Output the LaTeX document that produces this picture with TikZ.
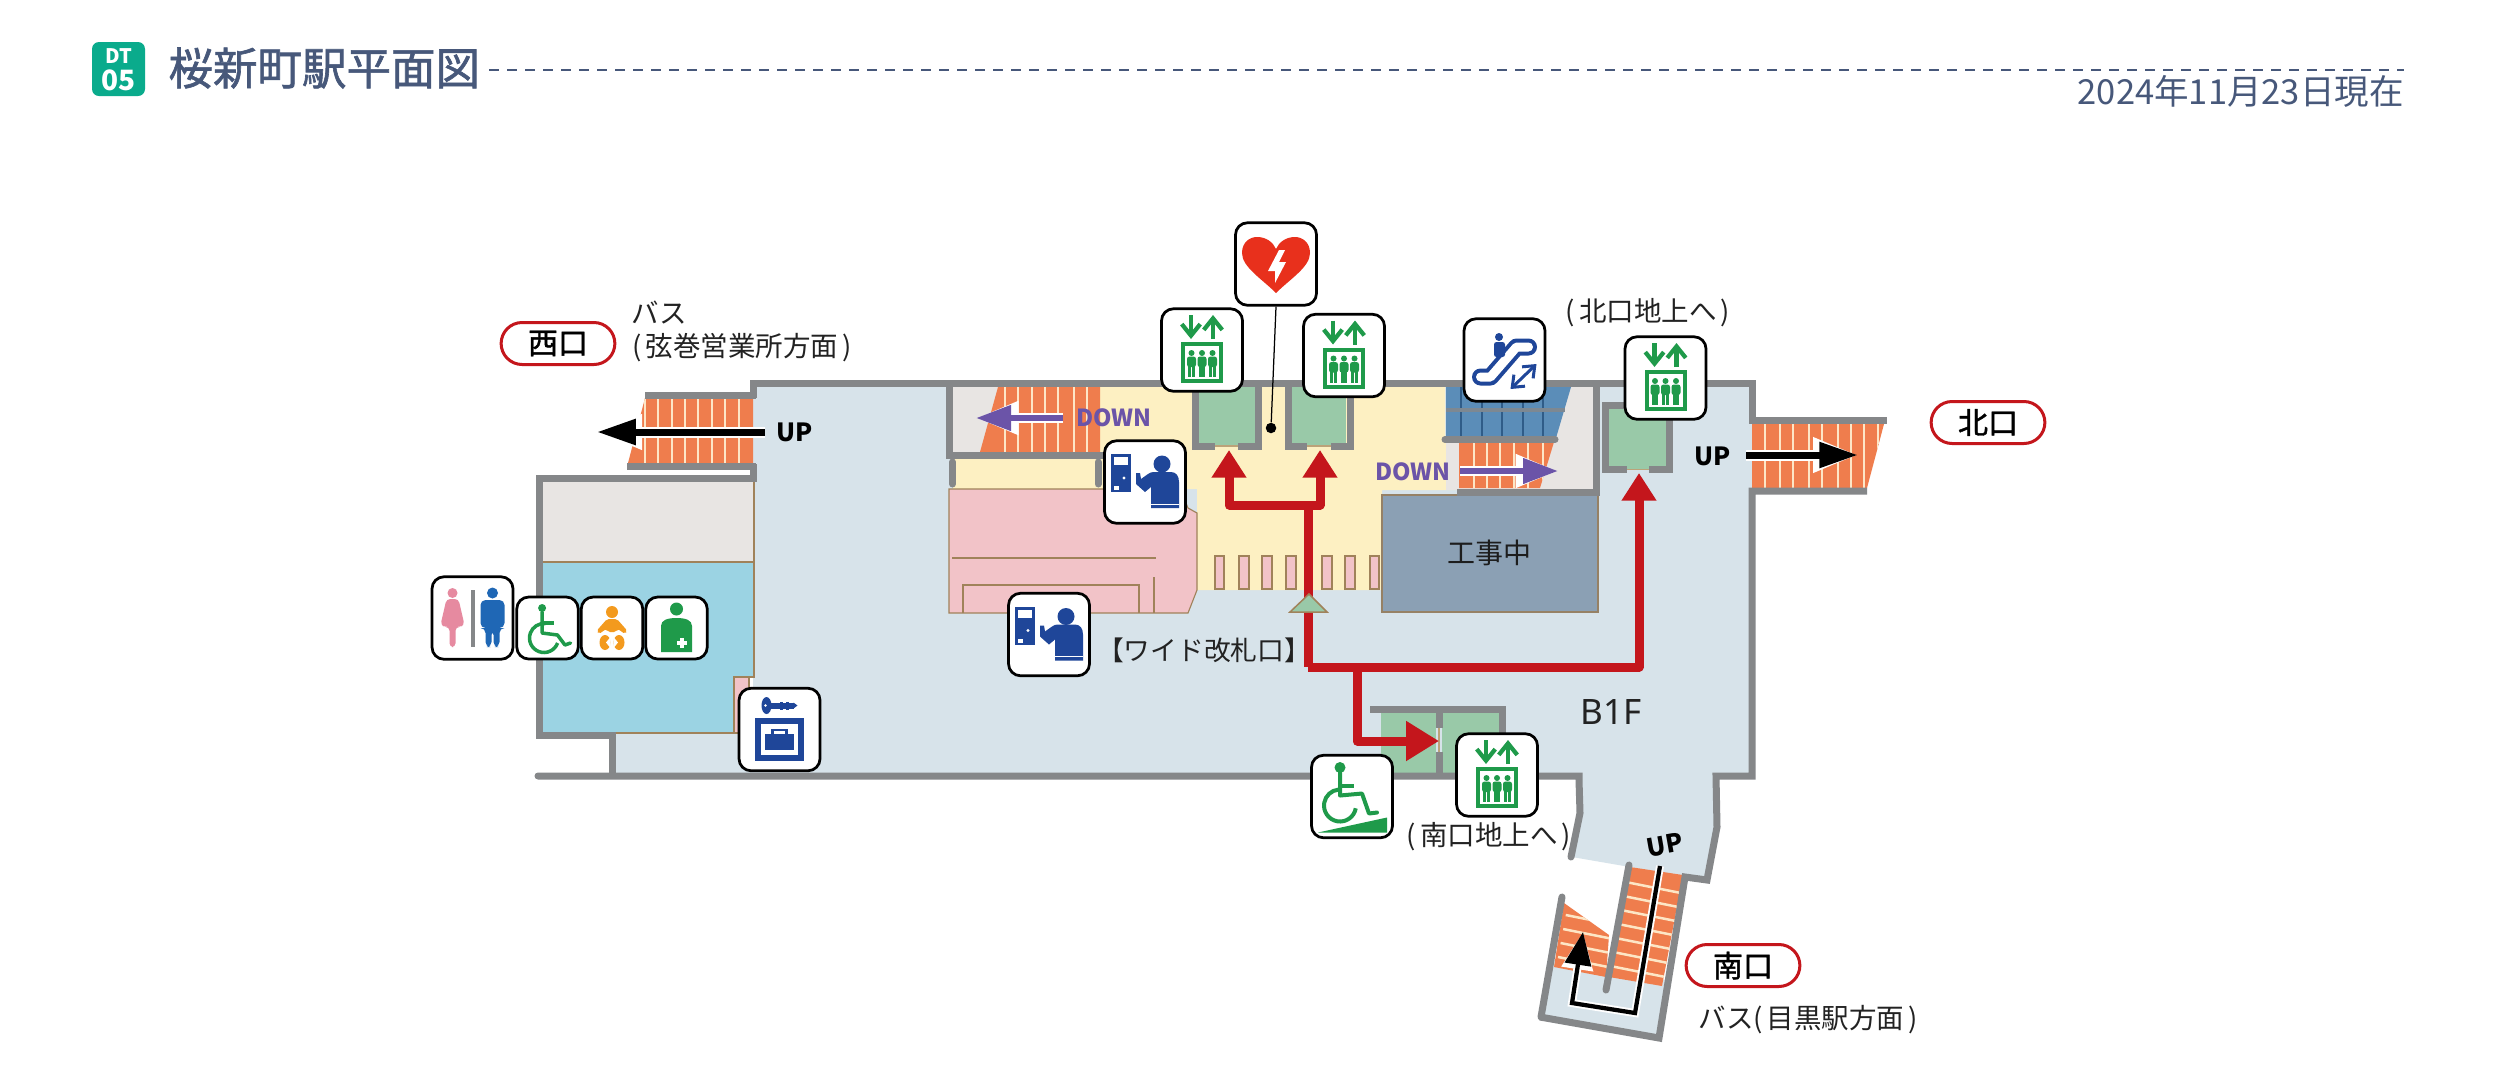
\documentclass[tikz,border=0pt]{standalone}
\usepackage{fontspec}
\setmainfont{Noto Sans}
\newfontfamily\jp{Noto Sans CJK JP}
\newfontfamily\jpm[FakeBold=1.4]{Noto Sans CJK JP}
\usetikzlibrary{arrows.meta}
\definecolor{hdr}{HTML}{47587A}
\definecolor{badge}{HTML}{0AAB8C}
\definecolor{floorc}{HTML}{D7E3EA}
\definecolor{yell}{HTML}{FDF0C2}
\definecolor{pinkz}{HTML}{F2C3C8}
\definecolor{grayz}{HTML}{E8E5E3}
\definecolor{bluez}{HTML}{9BD3E3}
\definecolor{wallc}{HTML}{858789}
\definecolor{orng}{HTML}{EF7D4D}
\definecolor{strp}{HTML}{FDE6C6}
\definecolor{brn}{HTML}{A0825A}
\definecolor{eleg}{HTML}{99C9A8}
\definecolor{redr}{HTML}{C4161C}
\definecolor{purp}{HTML}{6B54A8}
\definecolor{constr}{HTML}{8BA0B4}
\definecolor{escb}{HTML}{5B8DB8}
\definecolor{escd}{HTML}{2F5C88}
\definecolor{gic}{HTML}{1F9A4A}
\definecolor{bic}{HTML}{1F4699}
\definecolor{wom}{HTML}{E68AA0}
\definecolor{man}{HTML}{1F67B5}
\definecolor{bab}{HTML}{F39A1E}
\definecolor{aedr}{HTML}{E8301C}
\definecolor{txt}{HTML}{222222}
\newcommand{\lpar}{(\kern1.6pt}
\newcommand{\rpar}{\kern1.6pt)}
\tikzset{
  wall/.style={draw=wallc,line width=2.8pt,miter limit=10},
  rwall/.style={wall,line cap=round},
  thinb/.style={draw=brn,line width=0.45pt},
  strpl/.style={draw=strp,line width=1pt},
  doorl/.style={draw=brn!70!yell,line width=0.5pt},
  icon/.style={draw=black,fill=white,line width=1.1pt,rounded corners=4.8pt,inner sep=0pt},
  ibig/.style={icon,minimum width=32.4pt,minimum height=33pt},
  ismall/.style={icon,minimum width=24.6pt,minimum height=24.8pt},
  pill/.style={draw=redr,fill=white,line width=1.2pt,rounded corners=8.4pt,minimum width=45.5pt,minimum height=16.8pt,inner sep=0pt,font=\jpm\fontsize{12}{14}\selectfont},
  lab/.style={inner sep=0pt,text=txt,font=\jp\fontsize{10.7}{13}\selectfont},
  labw/.style={lab,font=\jp\fontsize{11}{13}\selectfont},
  uplab/.style={inner sep=0pt,font=\jp\bfseries\fontsize{10}{12}\selectfont},
  downlab/.style={inner sep=0pt,text=purp,font=\jp\bfseries\fontsize{9.4}{11}\selectfont},
  halob/.style={draw=white,line width=4.4pt,-{Triangle[length=18pt,width=13pt,fill=white]}},
  blk/.style={draw=black,line width=2.8pt,-{Triangle[length=15.5pt,width=9.8pt,fill=black]}},
  halop/.style={draw=white,line width=4pt,-{Triangle[length=17pt,width=12.5pt,fill=white]}},
  prp/.style={draw=purp,line width=2.4pt,-{Triangle[length=14pt,width=9.8pt,fill=purp]}},
  redl/.style={draw=redr,line width=3.6pt,line join=round},
  redh/.style={redl,-{Triangle[length=11pt,width=13.2pt,fill=redr]}},
  redhb/.style={redl,-{Triangle[length=13.2pt,width=15.2pt,fill=redr]}},
  barb/.style={-{Straight Barb[length=4.6pt,width=7.4pt]}},
  pics/elev/.style={code={
    \draw[gic,line width=1.7pt,barb] (-11,-35) -- (-11,-11);
    \draw[gic,line width=1.7pt,barb] (11,-11) -- (11,-35);
    \draw[gic,line width=1.6pt] (-19,-6) rectangle (19,31);
    \foreach \q in {-10.5,0,10.5}{
      \fill[gic] (\q,3) circle (3);
      \fill[gic,rounded corners=1pt] (\q-4.5,6.5) rectangle (\q+4.5,17);
      \fill[gic] (\q-3.2,16) rectangle (\q-0.3,27);
      \fill[gic] (\q+0.3,16) rectangle (\q+3.2,27);
    }
  }},
  pics/wheel/.style={code={
    \draw[gic,line width=1.4pt,line join=round,line cap=round] (-5.4,-16) -- (-5.4,5) -- (10,7) -- (17.5,17) -- (23,15);
    \draw[gic,line width=1.4pt] (-5,-5) -- (6,-5);
    \fill[gic] (-5.4,-20) circle (4);
    \draw[gic,line width=1.4pt] (-3.5,10) ++(20:14.5) arc[start angle=20,end angle=275,radius=14.5];
  }},
  pics/ramp/.style={code={
    \draw[gic,line width=1.6pt,line join=round,line cap=round] (-12,-24) -- (-12,-1) -- (10,-3) -- (17,17) -- (25,16);
    \draw[gic,line width=1.6pt] (-12,-11) -- (2,-11);
    \fill[gic] (-12,-29) circle (5.5);
    \draw[gic,line width=1.6pt] (-12,9) ++(10:16) arc[start angle=10,end angle=265,radius=16];
    \fill[gic] (-34,36) -- (35,36) -- (35,21) -- cycle;
  }},
  pics/toil/.style={code={
    \fill[wallc] (-2,-28) rectangle (2,29);
    \fill[wom] (-20,-25) circle (5);
    \fill[wom,rounded corners=1.5pt] (-26,-19) -- (-14,-19) -- (-8,7) -- (-13,9) -- (-17,9) -- (-17,29) -- (-23,29) -- (-23,9) -- (-27,9) -- (-32,7) -- cycle;
    \fill[man] (20,-25) circle (5.5);
    \fill[man,rounded corners=2pt] (8,-18) -- (32,-18) -- (32,10) -- (27,10) -- (27,29) -- (21,29) -- (21,12) -- (19,12) -- (19,29) -- (13,29) -- (13,10) -- (8,10) -- cycle;
  }},
  pics/baby/.style={code={
    \fill[bab] (0,-16) circle (6);
    \fill[bab,rounded corners=0.8pt] (-5,-9) -- (5,-9) -- (15.5,3) -- (13,6) -- (6,1) -- (4,4) -- (-4,4) -- (-6,1) -- (-13,6) -- (-15.5,3) -- cycle;
    \fill[bab] (-7,14.5) ellipse (5.5 and 7.5);
    \fill[bab] (7,14.5) ellipse (5.5 and 7.5);
    \fill[white] (-1.5,9) -- (-6,14.5) -- (-1.5,20) -- cycle;
    \fill[white] (1.5,9) -- (6,14.5) -- (1.5,20) -- cycle;
  }},
  pics/osto/.style={code={
    \fill[gic] (0,-19) circle (6.5);
    \fill[gic] (-15.5,24) -- (-15.5,-2) .. controls (-15.5,-8) and (-9,-10) .. (0,-10) .. controls (9,-10) and (15.5,-8) .. (15.5,-2) -- (15.5,24) -- cycle;
    \fill[white] (0.5,13) rectangle (10,16.5);
    \fill[white] (3.5,10) rectangle (7,19.5);
  }},
  pics/lock/.style={code={
    \fill[bic] (-13,-24) ellipse (5 and 8.5);
    \fill[white] (-14,-24) circle (1.3);
    \fill[bic] (-9,-27) rectangle (14,-21);
    \fill[bic] (14,-27) -- (18,-24) -- (14,-21) -- cycle;
    \fill[bic] (0,-28) rectangle (3,-20);
    \fill[bic] (6,-28) rectangle (9,-20);
    \draw[bic,line width=2.4pt] (-21.5,-8.5) rectangle (21.5,28.5);
    \fill[bic] (-14.5,4) rectangle (14.5,20);
    \draw[bic,line width=1pt] (-7,4) -- (-7,0.5) -- (7,0.5) -- (7,4);
  }},
  pics/gatei/.style={code={
    \fill[bic] (-34,-28) rectangle (-14,10);
    \fill[white] (-31,-25) rectangle (-17,-17);
    \fill[white] (-31,4) rectangle (-26,8);
    \fill[white] (-21,-4) circle (1.6);
    \fill[bic] (17,-18) circle (8.5);
    \fill[bic] (-9,-9) -- (-5,-9) -- (-4,-3) -- (3,-8) .. controls (5,-9.5) and (7,-10) .. (9,-10) -- (26,-10) .. controls (31,-10) and (34,-6) .. (34,0) -- (34,26) -- (6,26) -- (6,5) -- (0,10) -- (-9,2) -- cycle;
    \draw[white,line width=0.4pt] (6,22) -- (34,22);
  }},
  pics/esc/.style={code={
    \draw[bic,line width=6.8pt,line cap=round,line join=round] (-24,17) -- (-14,17) -- (12,-13) -- (24,-13);
    \draw[white,line width=3.6pt,line cap=round,line join=round] (-24,17) -- (-14,17) -- (12,-13) -- (24,-13);
    \fill[bic] (-5.5,-23) circle (4);
    \fill[bic,rounded corners=1pt] (-10.5,-18) rectangle (0.5,-3);
    \draw[bic,line width=1.2pt,{Straight Barb[length=4pt,width=6.4pt]}-{Straight Barb[length=4pt,width=6.4pt]}] (6,29) -- (32,4);
  }},
  pics/aedh/.style={code={
    \fill[aedr] (0,29) .. controls (-14,15) and (-34,3) .. (-34,-11) .. controls (-34,-22) and (-26,-27) .. (-19,-27) .. controls (-10,-27) and (-3,-22) .. (0,-15) .. controls (3,-22) and (10,-27) .. (19,-27) .. controls (26,-27) and (34,-22) .. (34,-11) .. controls (34,3) and (14,15) .. (0,29) -- cycle;
    \fill[white] (3,-14) -- (-8,7) -- (-1,7) -- (-1,19) -- (10,-2) -- (3,-2) -- (9,-14) -- cycle;
  }}
}
\begin{document}
\begin{tikzpicture}[x=0.4pt,y=-0.4pt]
\useasboundingbox (0,0) rectangle (2500,1081);
\fill[white] (0,0) rectangle (2500,1081);

% header
\node[fill=badge,rounded corners=2.8pt,minimum width=21.2pt,minimum height=21.6pt,inner sep=0pt] (badgebox) at (118.5,69) {};
\node[inner sep=0pt,text=white,font=\jp\bfseries\fontsize{8}{9}\selectfont] (badgedt) at (118.5,56) {DT};
\node[inner sep=0pt,text=white,font=\jp\bfseries\fontsize{11.2}{12}\selectfont] (badgeno) at (118.5,80) {05};
\node[inner sep=0pt,anchor=west,text=hdr,font=\jpm\fontsize{17.8}{20}\selectfont] (title) at (168,68) {桜新町駅平面図};
\draw[hdr,line width=0.9pt,dash pattern=on 4pt off 3.2pt] (489,70) coordinate (dashstart) -- (2404,70) coordinate (dashend);
\node[inner sep=0pt,anchor=east,text=hdr,font=\jp\fontsize{13.8}{16}\selectfont] (datel) at (2404,91) {2024年11月23日現在};

% floors
\fill[floorc] (753,383) -- (1752,383) -- (1752,776) -- (1716,776) -- (1717,827) -- (1707,880) -- (1685,877) -- (1630,867) -- (1572,857) -- (1580,813) -- (1579,776) -- (612,776) -- (612,733) -- (753,733) -- cycle;
\fill[floorc] (1554,960) -- (1665,980) -- (1659,1038) -- (1540,1017) -- cycle;
\fill[yell] (953,457) -- (1100,457) -- (1100,387) -- (1445,387) -- (1445,440) -- (1458,440) -- (1458,490) -- (1382,490) -- (1382,590) -- (1197,590) -- (1197,489) -- (953,489) -- cycle;
\fill[grayz] (953,387) rectangle (1100,452);
\fill[grayz] (1446,387) rectangle (1593,490);

% west rooms
\fill[grayz] (541,482) rectangle (754,562);
\fill[bluez] (541,562) -- (754,562) -- (754,677) -- (734,677) -- (734,733) -- (541,733) -- cycle;
\draw[thinb,fill=pinkz] (734,733) -- (734,677) -- (749,677) -- (749,733) -- cycle;
\draw[thinb] (541,562) -- (754,562);
\draw[thinb] (754,482) -- (754,677) -- (734,677);
\draw[thinb] (541,733) -- (749,733);

% ticket zone
\draw[thinb,fill=pinkz] (949,489) -- (1180,489) -- (1188,508) -- (1197,513) -- (1197,590) -- (1188,613) -- (949,613) -- cycle;
\draw[thinb] (952,558) -- (1156,558);
\draw[thinb] (963,613) -- (963,585) -- (1139,585) -- (1139,613);
\draw[thinb] (1154,577) -- (1154,613);
\foreach \a/\b in {1215/1224,1239/1249,1262/1272,1286/1296,1322/1332,1345/1355,1370/1379}
  \draw[thinb,fill=pinkz] (\a,556) rectangle (\b,589);

% construction
\draw[draw=brn!70!gray,line width=0.5pt,fill=constr] (1382,495) rectangle (1598,612);
\node[inner sep=0pt,text=txt!85!black,font=\jp\fontsize{11.2}{13}\selectfont] (koji) at (1489,553) {工事中};

% elevator cars
\fill[eleg] (1199,387) rectangle (1255,445);
\fill[eleg] (1291,387) rectangle (1346,445);
\fill[eleg] (1609,408) rectangle (1666,469);
\fill[eleg] (1381,712) rectangle (1436,773);
\fill[eleg] (1442,712) rectangle (1499,773);

% stairs west
\begin{scope}
\clip (645,398) -- (753,398) -- (753,463) -- (628,463) -- cycle;
\fill[orng] (620,395) rectangle (756,465);
\foreach \x in {645,658,672,685,698,712,725,739} \draw[strpl] (\x,395) -- (\x,465);
\end{scope}
% stairs centre-left
\begin{scope}
\clip (998,387) -- (1100,387) -- (1100,452) -- (980,452) -- cycle;
\fill[orng] (975,385) rectangle (1102,455);
\foreach \x in {1005,1018,1032,1045,1058,1074,1087} \draw[strpl] (\x,385) -- (\x,455);
\end{scope}
% escalator
\fill[escb] (1446,387) -- (1571,387) -- (1556,438) -- (1446,438) -- cycle;
\foreach \x in {1461,1482,1502,1523,1543} \draw[escd,line width=0.9pt] (\x,387) -- (\x,438);
\draw[draw=wallc!80!escb,line width=1.6pt] (1446,410) -- (1565,410);
\begin{scope}
\clip (1459,442) -- (1554,442) -- (1540,488) -- (1459,488) -- cycle;
\fill[orng] (1455,440) rectangle (1556,490);
\foreach \x in {1474,1487,1500,1514,1528,1543} \draw[strpl] (\x,440) -- (\x,490);
\end{scope}
% stairs north
\begin{scope}
\clip (1752,424) -- (1884,424) -- (1867,488) -- (1752,488) -- cycle;
\fill[orng] (1750,420) rectangle (1890,490);
\foreach \x in {1765,1780,1793,1809,1822,1838,1851,1864,1878} \draw[strpl] (\x,420) -- (\x,490);
\end{scope}
% stairs south
\begin{scope}
\clip (1630,867) -- (1683,875) -- (1662,986) -- (1609,977) -- cycle;
\fill[orng] (1600,860) rectangle (1690,990);
\foreach \t in {17,31,45,59,73,87,101} \draw[strpl] (1629-0.184*\t,865+\t) -- ++(70,14);
\end{scope}
\begin{scope}
\clip (1564,903) -- (1609,935) -- (1606,977) -- (1554,967) -- cycle;
\fill[orng] (1550,900) rectangle (1612,980);
\foreach \t in {45,59,73,87} \draw[strpl] (1574-0.184*\t,870+\t) -- ++(70,14);
\end{scope}

% walls
\draw[wall] (753,398) -- (753,383.5) -- (1752,383.5) -- (1752,420.5) -- (1887,420.5);
\draw[wall] (645,395) -- (756,395);
\draw[wall] (627,466) -- (756,466);
\draw[wall] (753,464) -- (753,478) -- (539,478) -- (539,735) -- (612,735) -- (612,776);
\draw[rwall] (538,776) -- (1579,776) -- (1579,780) -- (1580,813) -- (1571,857);
\draw[wall] (1867,491) -- (1752,491) -- (1752,776) -- (1716,776) -- (1717,827) -- (1707,880) -- (1685,877) -- (1659,1038) -- (1540,1017);
\draw[rwall] (1541,1017) -- (1562,897);
\draw[rwall] (1606,990) -- (1629,865);
\draw[wall] (949.5,383) -- (949.5,455) -- (1103,455);
\draw[rwall] (952.5,462) -- (952.5,484);
\draw[rwall] (1098,462) -- (1098,484);
\draw[wall] (1596.5,387) -- (1596.5,492) -- (1457,492);
\draw[rwall] (1445,439.5) -- (1555,439.5);
\draw[wall] (1195,387) -- (1195,446) -- (1215,446);
\draw[wall] (1238,446) -- (1258,446) -- (1258,387);
\draw[wall] (1288,387) -- (1288,446) -- (1307,446);
\draw[wall] (1331,446) -- (1350,446) -- (1350,387);
\draw[wall] (1669,405) -- (1605.5,405) -- (1605.5,469.5) -- (1627,469.5);
\draw[wall] (1649,469.5) -- (1669,469.5) -- (1669,405);
\draw[wall] (1370,709) -- (1502,709) -- (1502,776);
\draw[wall] (1439,709) -- (1439,728);
\draw[wall] (1439,752) -- (1439,776);
\draw[doorl] (1215,446) -- (1238,446);
\draw[doorl] (1307,446) -- (1331,446);
\draw[doorl] (1627,469.5) -- (1649,469.5);
\draw[doorl] (1439,728) -- (1439,752);

% red routes
\coordinate (rjoin) at (1308,505);
\coordinate (rturn) at (1308,667);
\coordinate (rsouth) at (1357,667);
\draw[redh] (rjoin) -- (1229,505) -- (1229,450) coordinate (rtipa);
\draw[redh] (rjoin) -- (1320,505) -- (1320,450) coordinate (rtipb);
\draw[redl] (rjoin) -- (rturn);
\draw[redh] (rturn) -- (1639,667) -- (1639,473) coordinate (rtipc);
\draw[redhb] (rsouth) -- (1357,741) -- (1439,741) coordinate (rtipd);
\draw[draw=brn,line width=0.6pt,fill=eleg,line join=miter] (1309,594) -- (1327,612) -- (1290,612) -- cycle;

% black and purple arrows
\draw[halob] (765,432) -- (597,432);
\draw[blk] (765,432) -- (597,432);
\draw[halob] (1746,455) -- (1858,455);
\draw[blk] (1746,455) -- (1858,455);
\draw[halop] (1063,418) -- (976,418);
\draw[prp] (1063,418) -- (976,418);
\draw[halop] (1460,471) -- (1558,471);
\draw[prp] (1460,471) -- (1558,471);
\draw[draw=white,line width=3.2pt,line join=miter,-{Triangle[length=15pt,width=12pt,fill=white]}] (1660,866) -- (1635,1013) -- (1572,1003) -- (1583,932);
\draw[draw=black,line width=1.7pt,line join=miter,-{Triangle[length=13.2pt,width=10.4pt,fill=black]}] (1660,866) -- (1635,1013) -- (1572,1003) -- (1583,932);

% labels on the plan
\node[uplab] (upw) at (795,432) {UP};
\node[uplab] (upn) at (1713,456) {UP};
\node[uplab,rotate=10] (ups) at (1665,845) {UP};
\node[downlab] (downa) at (1114,418) {DOWN};
\node[downlab] (downb) at (1413,472) {DOWN};
\node[inner sep=0pt,text=txt,font=\fontsize{14}{16}\selectfont] (bif) at (1611,712) {B1F};
\node[lab] (wide) at (1204,650) {【ワイド改札口】};
\node[labw,anchor=west] (bus1) at (631,313) {バス};
\node[labw,anchor=west] (bus2) at (632,348) {\lpar{}弦巻営業所方面\rpar{}};
\node[labw] (kitaup) at (1648,313) {\lpar{}北口地上へ\rpar{}};
\node[labw] (minaup) at (1489,837) {\lpar{}南口地上へ\rpar{}};
\node[labw,anchor=west] (bus3) at (1698,1020) {バス\lpar{}目黒駅方面\rpar{}};

% exit pills
\node[pill] (west) at (558,343.5) {西口};
\node[pill] (north) at (1988,422.5) {北口};
\node[pill] (south) at (1743,965.5) {南口};

% icons
\node[ibig] (aed) at (1276,264) {};
\pic at (aed.center) {aedh};
\node[circle,fill=black,inner sep=0pt,minimum size=4.2pt] (aeddot) at (1271,428) {};
\draw[black,line width=0.5pt] (aed.south) -- (aeddot);
\node[ibig] (elev1) at (1202,350) {};
\pic at (elev1.center) {elev};
\node[ibig] (elev2) at (1344,355.5) {};
\pic at (elev2.center) {elev};
\node[ibig] (elev3) at (1665.5,378) {};
\pic at (elev3.center) {elev};
\node[ibig] (elev4) at (1497,775) {};
\pic at (elev4.center) {elev};
\node[ibig] (esca) at (1504.5,360) {};
\pic at (esca.center) {esc};
\node[ibig] (gate1) at (1145,482) {};
\pic at (gate1.center) {gatei};
\node[ibig] (gate2) at (1049,634.5) {};
\pic at (gate2.center) {gatei};
\node[ibig] (rampi) at (1352,796.5) {};
\pic at (rampi.center) {ramp};
\node[ibig] (locker) at (779.5,729.5) {};
\pic at (locker.center) {lock};
\node[ibig] (toilet) at (472.5,618) {};
\pic at (toilet.center) {toil};
\node[ismall] (wheelc) at (547.5,628) {};
\pic at (wheelc.center) {wheel};
\node[ismall] (babyi) at (612,628) {};
\pic at (babyi.center) {baby};
\node[ismall] (ostom) at (676.5,628) {};
\pic at (ostom.center) {osto};
\end{tikzpicture}
\end{document}
